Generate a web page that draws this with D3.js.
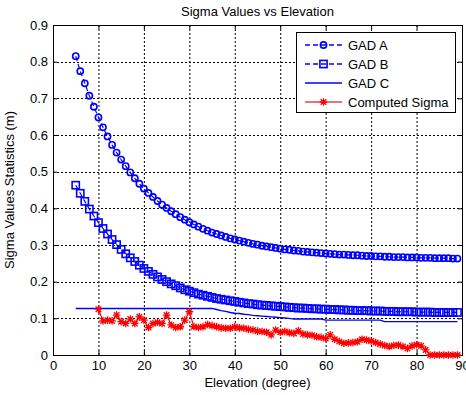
<!DOCTYPE html>
<html>
<head>
<meta charset="utf-8">
<script src="https://cdn.jsdelivr.net/npm/d3@7"></script>
<style>
  body { margin: 0; background: #fff; }
  text { font-family: "Liberation Sans", Arial, sans-serif; fill: #000; }
</style>
</head>
<body>
<div id="chart"></div>
<script>
// elevation (degree) for the three GAD curves
var elevation = [5,6,7,8,9,10,11,12,13,14,15,16,17,18,19,20,21,22,23,24,25,26,27,28,29,30,
  31,32,33,34,35,36,37,38,39,40,41,42,43,44,45,46,47,48,49,50,51,52,53,54,55,56,57,58,59,60,
  61,62,63,64,65,66,67,68,69,70,71,72,73,74,75,76,77,78,79,80,81,82,83,84,85,86,87,88,89];

var gadA = [0.815,0.774,0.741,0.707,0.677,0.648,0.621,0.596,0.573,0.552,0.533,0.515,0.498,0.482,0.467,
  0.454,0.442,0.431,0.420,0.410,0.401,0.392,0.384,0.376,0.369,0.362,0.356,0.350,0.344,0.339,0.334,
  0.330,0.326,0.322,0.318,0.315,0.312,0.309,0.306,0.303,0.301,0.298,0.296,0.294,0.292,0.290,0.288,
  0.287,0.285,0.284,0.282,0.281,0.280,0.279,0.278,0.277,0.276,0.275,0.274,0.274,0.273,0.272,0.272,
  0.271,0.270,0.270,0.269,0.269,0.268,0.268,0.267,0.267,0.267,0.266,0.266,0.266,0.265,0.265,0.265,
  0.264,0.264,0.264,0.264,0.263,0.263];

var gadB = [0.463,0.441,0.419,0.398,0.379,0.361,0.345,0.330,0.315,0.301,0.288,0.276,0.265,0.255,0.245,
  0.236,0.228,0.220,0.213,0.206,0.200,0.194,0.189,0.183,0.178,0.174,0.170,0.166,0.163,0.160,0.157,
  0.154,0.152,0.150,0.148,0.146,0.144,0.142,0.140,0.139,0.137,0.136,0.135,0.134,0.133,0.132,0.131,
  0.130,0.129,0.128,0.128,0.127,0.126,0.126,0.125,0.125,0.124,0.124,0.123,0.123,0.122,0.122,0.121,
  0.121,0.121,0.120,0.120,0.120,0.119,0.119,0.119,0.118,0.118,0.118,0.118,0.117,0.117,0.117,0.117,
  0.116,0.116,0.116,0.116,0.116,0.116];

var gadC = [0.127,0.127,0.127,0.127,0.127,0.127,0.127,0.127,0.127,0.127,0.127,0.127,0.127,0.127,0.127,
  0.127,0.127,0.127,0.127,0.127,0.127,0.127,0.127,0.127,0.127,0.127,0.127,0.127,0.127,0.127,0.127,
  0.124,0.121,0.119,0.116,0.114,0.113,0.111,0.110,0.108,0.107,0.106,0.105,0.104,0.103,0.102,0.101,
  0.100,0.098,0.098,0.098,0.098,0.098,0.098,0.098,0.095,0.095,0.095,0.095,0.095,0.095,0.095,0.095,
  0.095,0.095,0.095,0.095,0.095,0.091,0.091,0.091,0.091,0.091,0.091,0.091,0.091,0.091,0.091,0.091,
  0.091,0.091,0.091,0.091,0.091,0.091];

// computed sigma starts at 10 degree
var sigmaElevation = [10,11,12,13,14,15,16,17,18,19,20,21,22,23,24,25,26,27,28,29,30,
  31,32,33,34,35,36,37,38,39,40,41,42,43,44,45,46,47,48,49,50,51,52,53,54,55,56,57,58,59,60,
  61,62,63,64,65,66,67,68,69,70,71,72,73,74,75,76,77,78,79,80,81,82,83,84,85,86,87,88,89];

var computedSigma = [0.125,0.093,0.095,0.093,0.109,0.091,0.086,0.098,0.086,0.104,0.095,0.075,0.086,
  0.089,0.086,0.109,0.082,0.075,0.077,0.095,0.118,0.077,0.075,0.077,0.083,0.080,0.077,0.074,0.073,
  0.073,0.077,0.074,0.073,0.070,0.068,0.065,0.064,0.062,0.055,0.068,0.062,0.064,0.061,0.059,0.066,
  0.057,0.055,0.054,0.050,0.048,0.045,0.055,0.043,0.037,0.032,0.033,0.034,0.036,0.043,0.041,0.038,
  0.034,0.030,0.026,0.023,0.026,0.027,0.023,0.018,0.025,0.028,0.025,0.014,0,0,0,0,0,0,0];

var xTicks = [0,10,20,30,40,50,60,70,80,90];
var yTicks = [0,0.1,0.2,0.3,0.4,0.5,0.6,0.7,0.8,0.9];

var W = 466, H = 395;
var margin = {top: 25, right: 4, bottom: 40, left: 53},
    width = W - margin.left - margin.right,
    height = H - margin.top - margin.bottom;

var svg0 = d3.select("#chart")
  .append("svg")
    .attr("width", W)
    .attr("height", H);

svg0.append("rect").attr("width", W).attr("height", H).attr("fill", "#fff");

var svg = svg0.append("g")
    .attr("transform", "translate(" + margin.left + "," + margin.top + ")");

var x = d3.scaleLinear().domain([0, 90]).range([0, width]);
var y = d3.scaleLinear().domain([0, 0.9]).range([height, 0]);

// dotted grid
svg.append("g")
  .selectAll("line")
  .data(xTicks.slice(1, -1))
  .enter().append("line")
    .attr("x1", function(d) { return x(d) + 0.5 })
    .attr("x2", function(d) { return x(d) + 0.5 })
    .attr("y1", 0).attr("y2", height)
    .attr("stroke", "#000").attr("stroke-width", 1)
    .attr("stroke-dasharray", "2,2");
svg.append("g")
  .selectAll("line")
  .data(yTicks.slice(1, -1))
  .enter().append("line")
    .attr("y1", function(d) { return Math.round(y(d)) + 0.5 })
    .attr("y2", function(d) { return Math.round(y(d)) + 0.5 })
    .attr("x1", 0).attr("x2", width)
    .attr("stroke", "#000").attr("stroke-width", 1)
    .attr("stroke-dasharray", "2,2");

// axes, ticks pointing inward like matlab
function styleAxis(g) {
  g.select(".domain").remove();
  g.selectAll("line").attr("stroke", "#000");
  g.selectAll("text").style("font-size", "13px").attr("fill", "#000");
}
svg.append("g")
  .attr("transform", "translate(0," + height + ")")
  .call(d3.axisBottom(x).tickValues(xTicks).tickSize(-4).tickPadding(6).tickFormat(d3.format("d")))
  .call(styleAxis);
svg.append("g")
  .call(d3.axisLeft(y).tickValues(yTicks).tickSize(-4).tickPadding(5)
    .tickFormat(function(d) { return d === 0 ? "0" : d3.format(".1f")(d) }))
  .call(styleAxis);
svg.append("g")
  .call(d3.axisTop(x).tickValues(xTicks).tickSize(-4).tickFormat(""))
  .call(styleAxis);
svg.append("g")
  .attr("transform", "translate(" + width + ",0)")
  .call(d3.axisRight(y).tickValues(yTicks).tickSize(-4).tickFormat(""))
  .call(styleAxis);

svg.append("rect")
  .attr("x", 0.5).attr("y", 0.5)
  .attr("width", width).attr("height", height)
  .attr("fill", "none").attr("stroke", "#000").attr("stroke-width", 1);

var blue = "#0000ff", red = "#ff0000";
var starPath = "M-3.8,0H3.8M0,-3.8V3.8M-2.8,-2.8L2.8,2.8M-2.8,2.8L2.8,-2.8";

var line = d3.line()
  .x(function(d) { return x(d[0]) })
  .y(function(d) { return y(d[1]) });

var ptsA = elevation.map(function(e, i) { return [e, gadA[i]] });
var ptsB = elevation.map(function(e, i) { return [e, gadB[i]] });
var ptsC = elevation.map(function(e, i) { return [e, gadC[i]] });
var ptsS = sigmaElevation.map(function(e, i) { return [e, computedSigma[i]] });

// GAD A --o
svg.append("path").attr("d", line(ptsA))
  .attr("fill", "none").attr("stroke", blue).attr("stroke-width", 1.2)
  .attr("stroke-dasharray", "5,3");
svg.append("g").selectAll("circle")
  .data(ptsA).enter().append("circle")
    .attr("cx", function(d) { return x(d[0]) })
    .attr("cy", function(d) { return y(d[1]) })
    .attr("r", 3.1)
    .attr("fill", "none").attr("stroke", blue).attr("stroke-width", 1.6);

// GAD B --s
svg.append("path").attr("d", line(ptsB))
  .attr("fill", "none").attr("stroke", blue).attr("stroke-width", 1.2)
  .attr("stroke-dasharray", "5,3");
svg.append("g").selectAll("rect")
  .data(ptsB).enter().append("rect")
    .attr("x", function(d) { return x(d[0]) - 3.6 })
    .attr("y", function(d) { return y(d[1]) - 3.6 })
    .attr("width", 7.2).attr("height", 7.2)
    .attr("fill", "none").attr("stroke", blue).attr("stroke-width", 1.6);

// GAD C solid
svg.append("path").attr("d", line(ptsC))
  .attr("fill", "none").attr("stroke", blue).attr("stroke-width", 1.4);

// Computed Sigma -*
svg.append("path").attr("d", line(ptsS))
  .attr("fill", "none").attr("stroke", red).attr("stroke-width", 1.2);
svg.append("g").selectAll("path")
  .data(ptsS).enter().append("path")
    .attr("d", starPath)
    .attr("transform", function(d) { return "translate(" + x(d[0]) + "," + y(d[1]) + ")" })
    .attr("fill", "none").attr("stroke", red).attr("stroke-width", 1.3);

// legend
var legend = svg0.append("g").attr("transform", "translate(296,32)");
legend.append("rect")
  .attr("x", 0.5).attr("y", 0.5).attr("width", 159).attr("height", 80)
  .attr("fill", "#fff").attr("stroke", "#000").attr("stroke-width", 1);
var items = [
  {name: "GAD A", color: blue, dash: "5,3", marker: "circle"},
  {name: "GAD B", color: blue, dash: "5,3", marker: "square"},
  {name: "GAD C", color: blue, dash: null, marker: null},
  {name: "Computed Sigma", color: "#e8404a", dash: null, marker: "star"}
];
items.forEach(function(it, i) {
  var row = legend.append("g").attr("transform", "translate(0," + (13 + i * 19) + ")");
  row.append("line")
    .attr("x1", 9).attr("x2", 46).attr("y1", 0).attr("y2", 0)
    .attr("stroke", it.color).attr("stroke-width", 1.4)
    .attr("stroke-dasharray", it.dash);
  if (it.marker === "circle") {
    row.append("circle").attr("cx", 27.5).attr("cy", 0).attr("r", 3.1)
      .attr("fill", "none").attr("stroke", it.color).attr("stroke-width", 1.6);
  } else if (it.marker === "square") {
    row.append("rect").attr("x", 23.9).attr("y", -3.6).attr("width", 7.2).attr("height", 7.2)
      .attr("fill", "none").attr("stroke", it.color).attr("stroke-width", 1.6);
  } else if (it.marker === "star") {
    row.append("path").attr("d", starPath).attr("transform", "translate(27.5,0)")
      .attr("fill", "none").attr("stroke", red).attr("stroke-width", 1.3);
  }
  row.append("text")
    .attr("x", 52).attr("y", 0).attr("dy", "0.35em")
    .style("font-size", "13px")
    .text(it.name);
});

// title and axis labels
svg0.append("text")
  .attr("x", margin.left + width / 2).attr("y", 16)
  .attr("text-anchor", "middle").style("font-size", "13px")
  .text("Sigma Values vs Elevation");
svg0.append("text")
  .attr("x", margin.left + width / 2).attr("y", 387)
  .attr("text-anchor", "middle").style("font-size", "13px")
  .text("Elevation (degree)");
svg0.append("text")
  .attr("transform", "translate(14," + (margin.top + height / 2) + ") rotate(-90)")
  .attr("text-anchor", "middle").style("font-size", "13px")
  .text("Sigma Values Statistics (m)");
</script>
</body>
</html>
